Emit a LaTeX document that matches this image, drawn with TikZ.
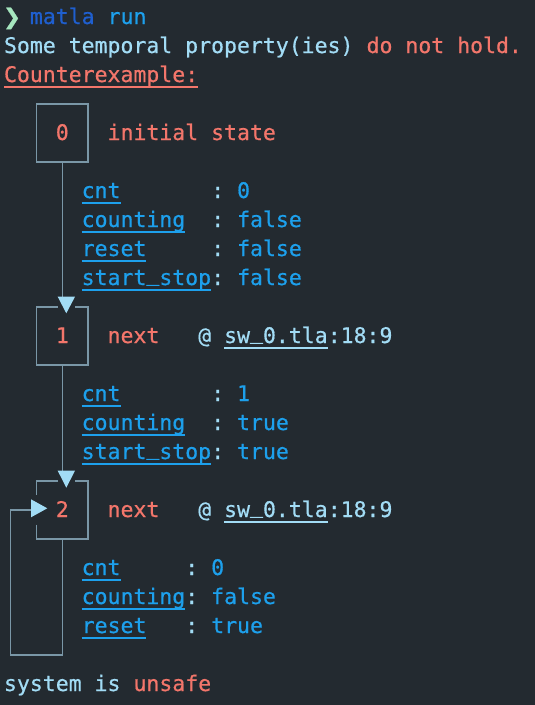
\documentclass[tikz,border=0pt]{standalone}
\usepackage{fontspec}
\setmonofont[FakeBold=0.6]{DejaVu Sans Mono}
\newfontfamily\promptfont[FakeBold=1]{DejaVu Sans}
\definecolor{bgc}{HTML}{232A30}
\definecolor{lcy}{HTML}{A2DCF5}
\definecolor{sal}{HTML}{F3766B}
\definecolor{vbl}{HTML}{1DA0EC}
\definecolor{dbl}{HTML}{1F5FCF}
\definecolor{grn}{HTML}{A5E6BE}
\definecolor{lnc}{HTML}{7A97A7}
\newcommand\cw{12.95}
\newcommand\us{\raisebox{4.2pt}{\_}}
\newcommand\ulnode[2]{\draw[ulstyle,#2] ([yshift=-5.3pt]#1.base west) -- ([yshift=-5.3pt]#1.base east);}
\frenchspacing
\begin{document}
\begin{tikzpicture}[x=1pt,y=-1pt,
  txt/.style={anchor=base west,inner sep=0pt,outer sep=0pt,font=\ttfamily\fontsize{21.5}{29}\selectfont},
  boxn/.style={inner sep=0pt,outer sep=0pt,minimum width=51.8pt,minimum height=58pt,text height=14pt,text depth=0pt,text=sal,font=\ttfamily\fontsize{21.5}{29}\selectfont},
  ln/.style={draw=lnc,line width=1.6pt},
  tri/.style={fill=lcy},
  ulstyle/.style={line width=1.8pt}]
\fill[bgc] (0,0) rectangle (535,705);
\useasboundingbox (0,0) rectangle (535,705);
% header
\node[txt,text=grn,font=\promptfont\fontsize{21.5}{29}\selectfont] (prompt) at (3,24) {❯};
\node[txt,text=dbl] (matla) at ({4+2*\cw},24) {matla};
\node[txt,text=vbl] (run) at ({4+8*\cw},24) {run};
\node[txt,text=lcy] (msga) at (4,53) {Some temporal property(ies)};
\node[txt,text=sal] (msgb) at ({4+28*\cw},53) {do not hold.};
\node[txt,text=sal] (cex) at (4,82) {Counterexample:};
\ulnode{cex}{sal}
% boxes
\node[boxn,draw=lnc,line width=1.6pt] (box0) at (62.3,133) {0};
\node[boxn] (box1) at (62.3,336) {1};
\node[boxn] (box2) at (62.3,510) {2};
% box 1 outline with gap at top
\draw[ln] ([xshift=-4.5pt]box1.north) -- (box1.north west) -- (box1.south west) -- (box1.south east) -- (box1.north east) -- ([xshift=12.2pt]box1.north);
% box 2 outline with gaps
\draw[ln] ([xshift=-4.5pt]box2.north) -- (box2.north west) -- ([yshift=-14pt]box2.north west);
\draw[ln] ([yshift=14.5pt]box2.south west) -- (box2.south west) -- (box2.south east) -- (box2.north east) -- ([xshift=12.2pt]box2.north);
% state labels
\node[txt,text=sal] (lab0) at ({4+8*\cw},140) {initial state};
\node[txt,text=sal] (lab1) at ({4+8*\cw},343) {next};
\node[txt,text=lcy] (at1) at ({4+15*\cw},343) {@};
\node[txt,text=lcy] (file1) at ({4+17*\cw},343) {sw\us0.tla};
\node[txt,text=lcy] (pos1) at ({4+25*\cw},343) {:18:9};
\ulnode{file1}{lcy}
\node[txt,text=sal] (lab2) at ({4+8*\cw},517) {next};
\node[txt,text=lcy] (at2) at ({4+15*\cw},517) {@};
\node[txt,text=lcy] (file2) at ({4+17*\cw},517) {sw\us0.tla};
\node[txt,text=lcy] (pos2) at ({4+25*\cw},517) {:18:9};
\ulnode{file2}{lcy}
% state 0 variables
\node[txt,text=vbl] (v0a) at ({4+6*\cw},198) {cnt};
\node[txt,text=vbl] (v0b) at ({4+6*\cw},227) {counting};
\node[txt,text=vbl] (v0c) at ({4+6*\cw},256) {reset};
\node[txt,text=vbl] (v0d) at ({4+6*\cw},285) {start\us stop};
\foreach \r/\v [count=\i] in {198/0,227/false,256/false,285/false}{
  \node[txt,text=lcy] (c0\i) at ({4+16*\cw},\r) {:};
  \node[txt,text=vbl] (w0\i) at ({4+18*\cw},\r) {\v};
}
\ulnode{v0a}{vbl}\ulnode{v0b}{vbl}\ulnode{v0c}{vbl}\ulnode{v0d}{vbl}
% state 1 variables
\node[txt,text=vbl] (v1a) at ({4+6*\cw},401) {cnt};
\node[txt,text=vbl] (v1b) at ({4+6*\cw},430) {counting};
\node[txt,text=vbl] (v1c) at ({4+6*\cw},459) {start\us stop};
\foreach \r/\v [count=\i] in {401/1,430/true,459/true}{
  \node[txt,text=lcy] (c1\i) at ({4+16*\cw},\r) {:};
  \node[txt,text=vbl] (w1\i) at ({4+18*\cw},\r) {\v};
}
\ulnode{v1a}{vbl}\ulnode{v1b}{vbl}\ulnode{v1c}{vbl}
% state 2 variables
\node[txt,text=vbl] (v2a) at ({4+6*\cw},575) {cnt};
\node[txt,text=vbl] (v2b) at ({4+6*\cw},604) {counting};
\node[txt,text=vbl] (v2c) at ({4+6*\cw},633) {reset};
\foreach \r/\v [count=\i] in {575/0,604/false,633/true}{
  \node[txt,text=lcy] (c2\i) at ({4+14*\cw},\r) {:};
  \node[txt,text=vbl] (w2\i) at ({4+16*\cw},\r) {\v};
}
\ulnode{v2a}{vbl}\ulnode{v2b}{vbl}\ulnode{v2c}{vbl}
% connectors
\coordinate (a1) at (62.3,296.7);
\coordinate (a2) at (62.3,470.7);
\coordinate (lb) at (62.3,655);
\coordinate (lc) at (10.5,655);
\coordinate (ld) at (10.5,510);
\coordinate (le) at (31,510);
\draw[ln] (box0.south) -- (a1);
\draw[ln] (box1.south) -- (a2);
\draw[ln] (box2.south) -- (lb) -- (lc) -- (ld) -- (le);
\fill[tri] (57.7,296.7) -- (75,296.7) -- (66.3,313.3) -- cycle;
\fill[tri] (57.7,470.7) -- (75,470.7) -- (66.3,487.7) -- cycle;
\fill[tri] (31,499.3) -- (31,517.3) -- (47.3,508.3) -- cycle;
% footer
\node[txt,text=lcy] (sys) at (4,691) {system is};
\node[txt,text=sal] (unsafe) at ({4+10*\cw},691) {unsafe};
\end{tikzpicture}
\end{document}
